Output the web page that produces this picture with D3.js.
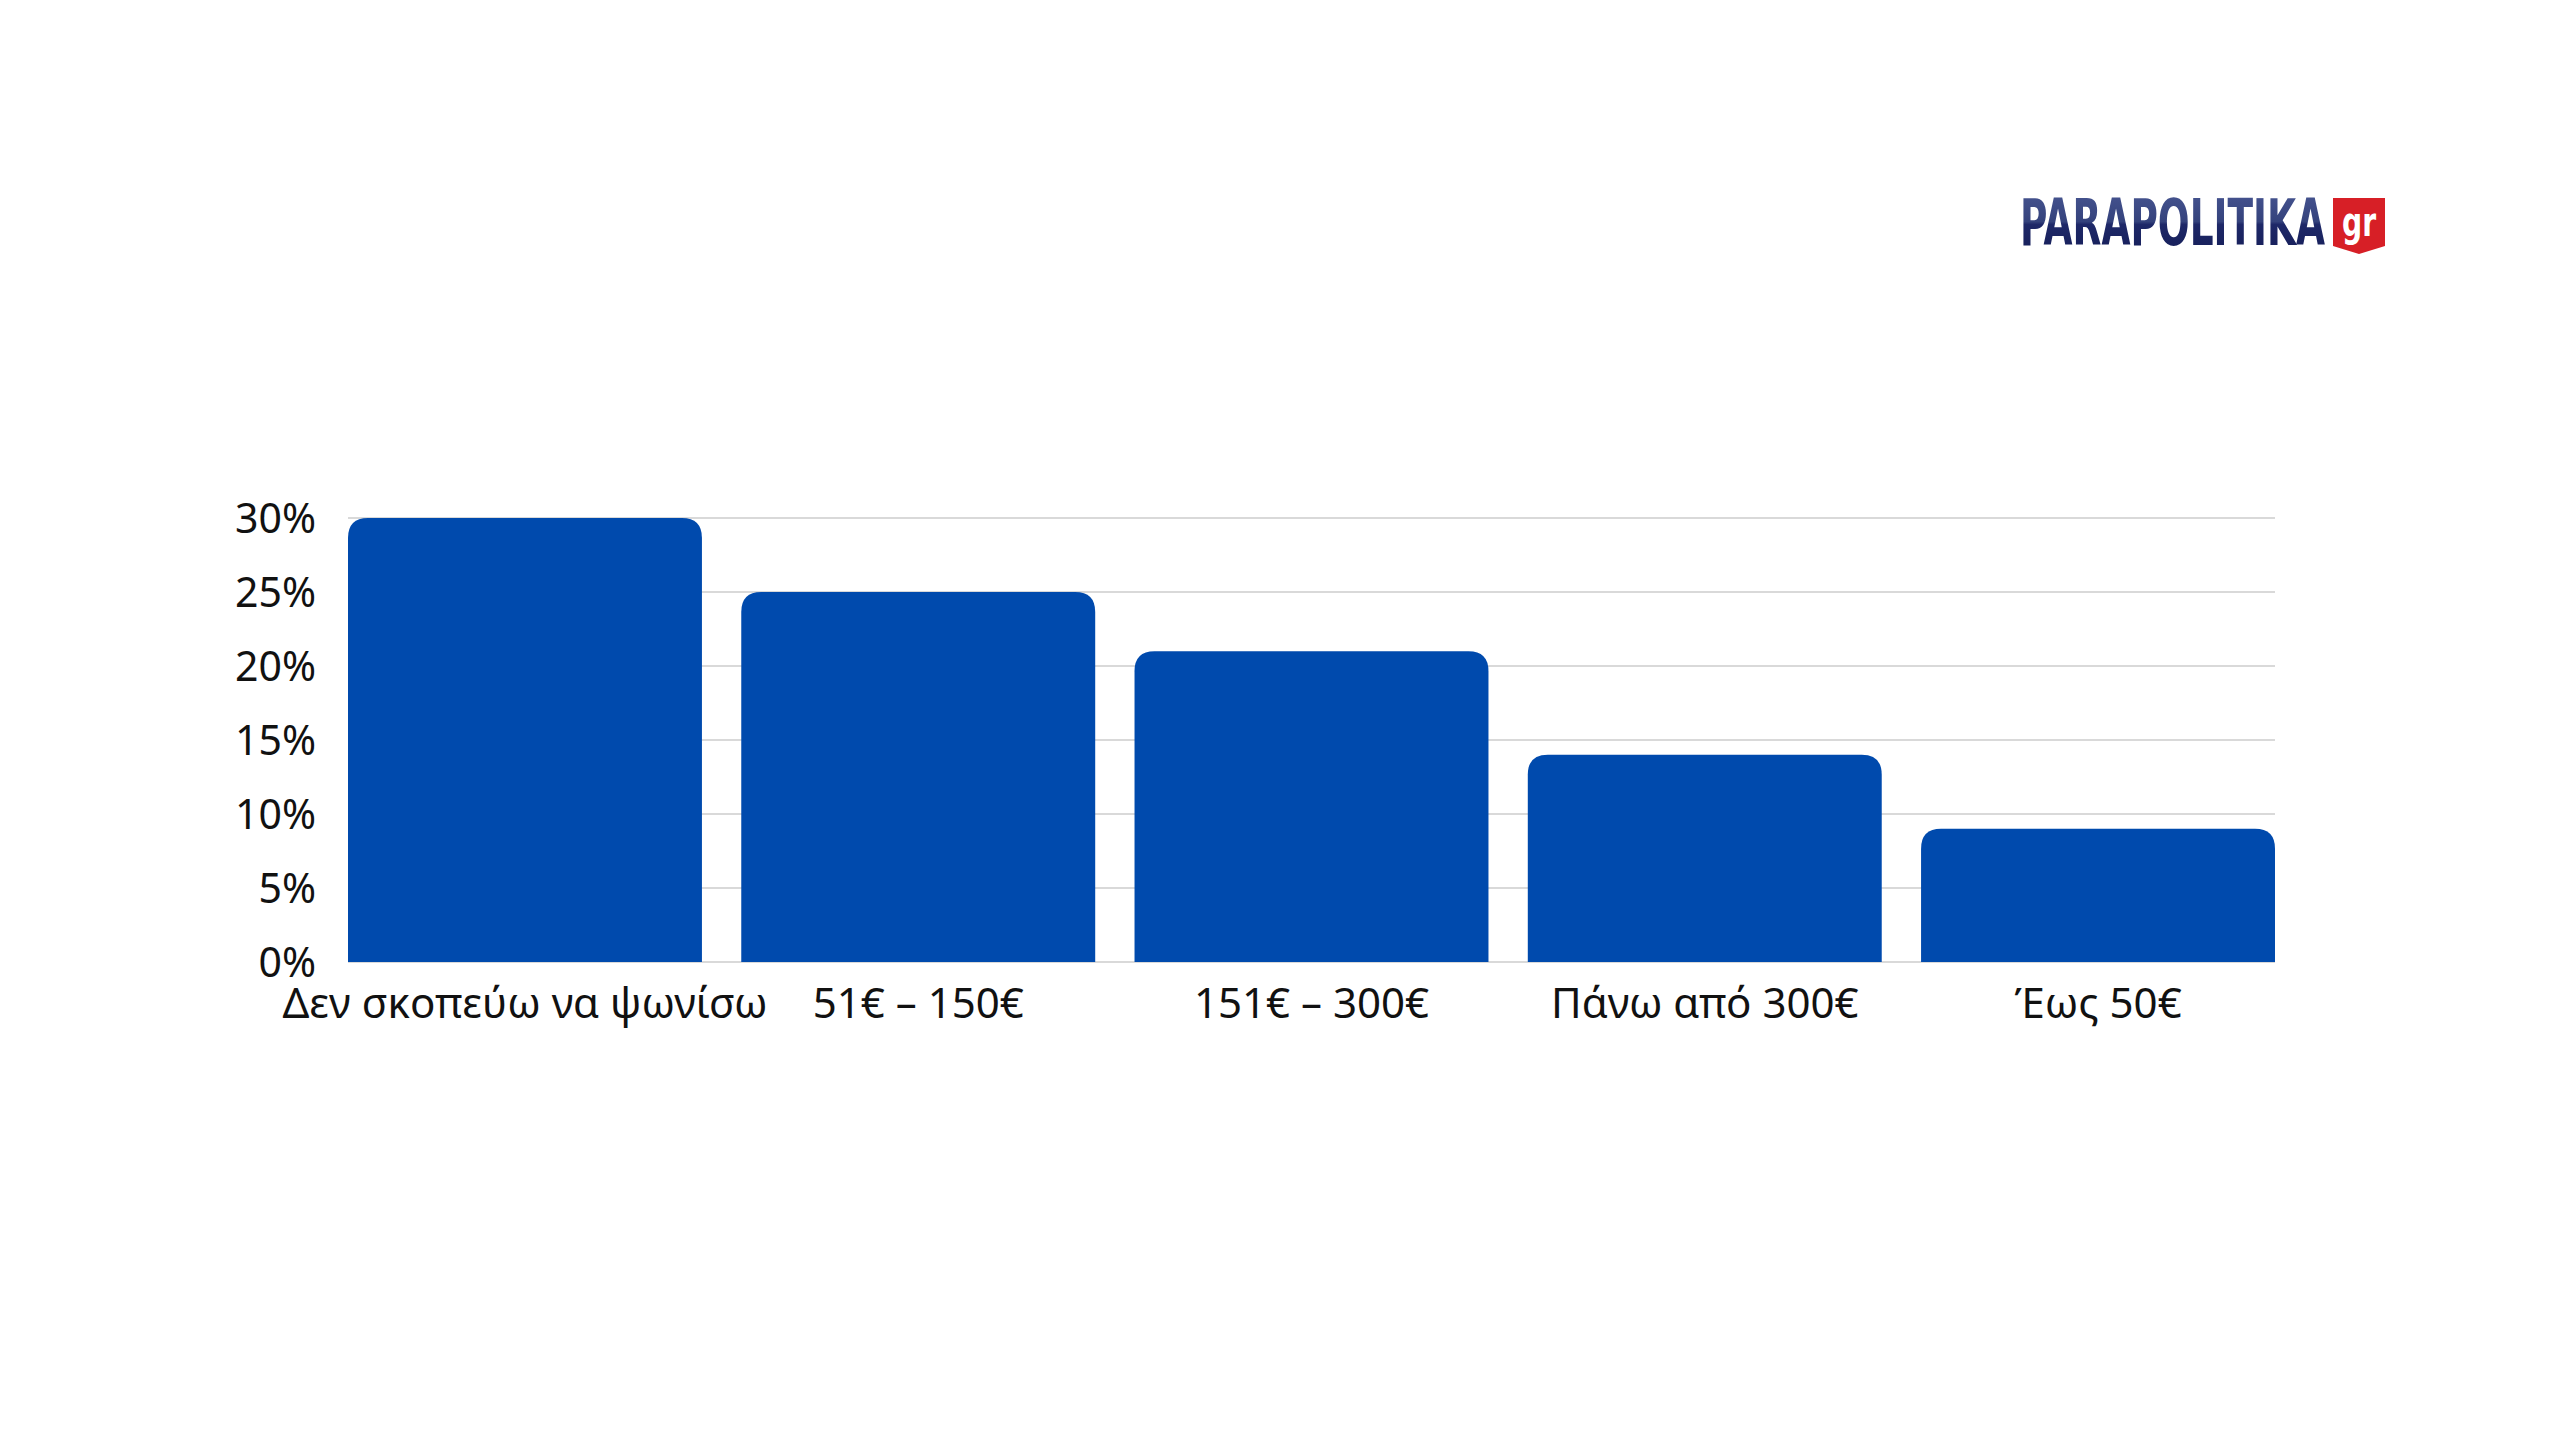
<!DOCTYPE html>
<html>
<head>
<meta charset="utf-8">
<script src="https://cdn.jsdelivr.net/npm/d3@7"></script>
<style>
  html, body { margin: 0; padding: 0; background: #ffffff; }
  svg { display: block; }
</style>
</head>
<body>
<svg id="chart" width="2560" height="1440"></svg>
<script>
const categories = ["Δεν σκοπεύω να ψωνίσω", "51€ – 150€", "151€ – 300€", "Πάνω από 300€", "Έως 50€"];
const values = [30, 25, 21, 14, 9];
const yTicks = [0, 5, 10, 15, 20, 25, 30];
const yTickLabels = ["0%", "5%", "10%", "15%", "20%", "25%", "30%"];

const svg = d3.select("#chart");
const W = 2560, H = 1440;
svg.append("rect").attr("width", W).attr("height", H).attr("fill", "#ffffff");

const plot = { left: 348, right: 2275, top: 518, bottom: 962 };

const x = d3.scaleBand().domain(categories).range([plot.left, plot.right]).paddingInner(0.1).paddingOuter(0);
const y = d3.scaleLinear().domain([0, 30]).range([plot.bottom, plot.top]);

// gridlines
const grid = svg.append("g");
grid.selectAll("line").data(yTicks).join("line")
  .attr("x1", plot.left).attr("x2", plot.right)
  .attr("y1", d => y(d)).attr("y2", d => y(d))
  .attr("stroke", "#d9d9d9").attr("stroke-width", 2);

// y axis labels
const yAxis = d3.axisLeft(y).tickValues(yTicks).tickFormat(d => yTickLabels[yTicks.indexOf(d)]).tickSize(0).tickPadding(0);
const yg = svg.append("g").attr("transform", `translate(316,0)`).call(yAxis);
yg.select(".domain").remove();
yg.selectAll("text")
  .attr("font-family", "'Noto Sans', 'Open Sans', sans-serif")
  .attr("font-size", 41)
  .attr("fill", "#111111")
  .attr("dy", "0.35em");

// bars with rounded top corners
const r = 20;
function barPath(x0, w, yTop, yBot) {
  const rr = Math.min(r, (yBot - yTop), w / 2);
  return `M${x0},${yBot} L${x0},${yTop + rr} Q${x0},${yTop} ${x0 + rr},${yTop} L${x0 + w - rr},${yTop} Q${x0 + w},${yTop} ${x0 + w},${yTop + rr} L${x0 + w},${yBot} Z`;
}
svg.append("g").selectAll("path").data(categories).join("path")
  .attr("d", (c, i) => barPath(x(c), x.bandwidth(), y(values[i]), y(0)))
  .attr("fill", "#004aad");

// x axis labels
const xAxis = d3.axisBottom(x).tickSize(0).tickPadding(0);
const xg = svg.append("g").attr("transform", `translate(0,1018)`).call(xAxis);
xg.select(".domain").remove();
xg.selectAll("text")
  .attr("font-family", "'Noto Sans', 'Open Sans', sans-serif")
  .attr("font-size", 42)
  .attr("fill", "#111111")
  .attr("dy", 0)
  .attr("y", 0);

// logo
const defs = svg.append("defs");
const grad = defs.append("linearGradient").attr("id", "logoGrad").attr("x1", 0).attr("y1", 0).attr("x2", 0).attr("y2", 1);
grad.append("stop").attr("offset", "0%").attr("stop-color", "#4a5894");
grad.append("stop").attr("offset", "48%").attr("stop-color", "#34427c");
grad.append("stop").attr("offset", "52%").attr("stop-color", "#1e2868");
grad.append("stop").attr("offset", "100%").attr("stop-color", "#141c55");
const logo = svg.append("g");
const lt = logo.append("text")
  .attr("x", 0).attr("y", 0)
  .attr("font-family", "'DejaVu Sans Condensed', 'DejaVu Sans', sans-serif")
  .attr("font-weight", "bold")
  .attr("font-size", 64)
  .attr("fill", "url(#logoGrad)")
  .text("PARAPOLITIKA");
const lw = lt.node().getComputedTextLength();
lt.attr("transform", `translate(2020,245) scale(${305 / lw},1)`);
logo.append("path")
  .attr("d", "M2333,198 L2385,198 L2385,246 L2359,254 L2333,246 Z")
  .attr("fill", "#d71f26");
const gt = logo.append("text")
  .attr("x", 0).attr("y", 0)
  .attr("text-anchor", "middle")
  .attr("font-family", "'DejaVu Sans Condensed', 'DejaVu Sans', sans-serif")
  .attr("font-weight", "bold")
  .attr("font-size", 40)
  .attr("fill", "#ffffff")
  .text("gr");
const gw = gt.node().getComputedTextLength();
gt.attr("transform", `translate(2359,236) scale(${34 / gw},1)`);
</script>
</body>
</html>
